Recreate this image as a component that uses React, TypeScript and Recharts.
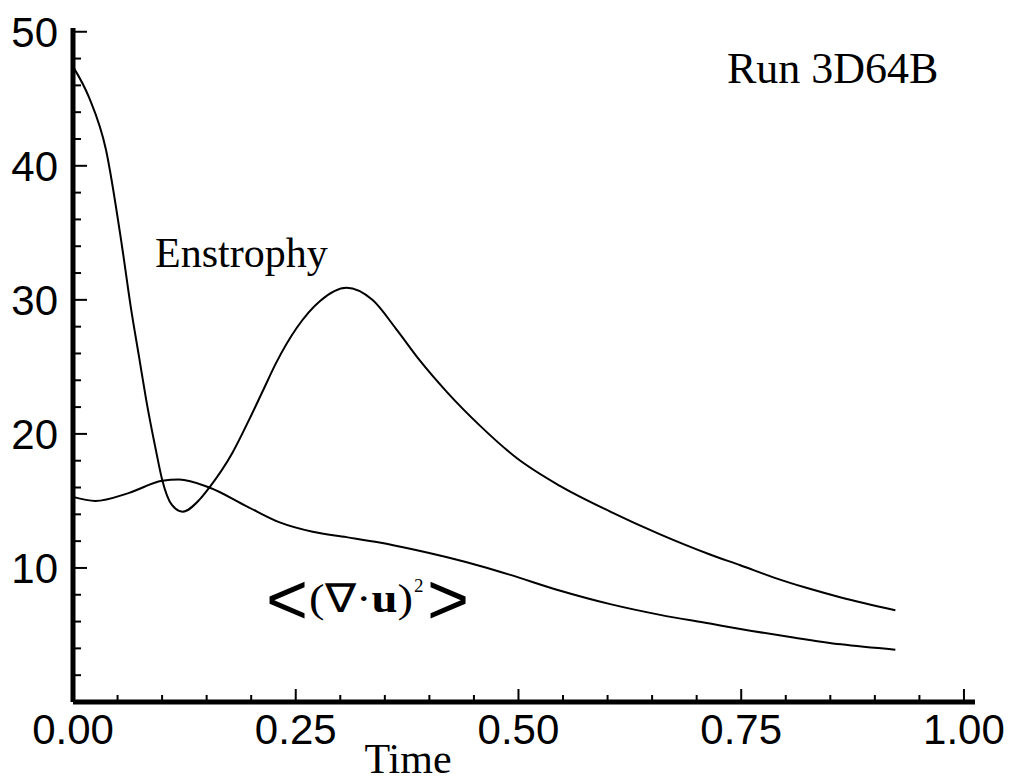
import { Line, LineChart, XAxis, YAxis } from "recharts";

// Enstrophy vs time
const enstrophyTime = [
  0, 0.018, 0.037, 0.055, 0.065, 0.074, 0.082, 0.093, 0.1, 0.111, 0.123, 0.142,
  0.153, 0.179, 0.198, 0.213, 0.228, 0.251, 0.277, 0.307, 0.336, 0.363, 0.389,
  0.42, 0.457, 0.498, 0.547, 0.603, 0.659, 0.715, 0.749, 0.786, 0.824, 0.862,
  0.923,
];
const enstrophyValue = [
  47.4, 45.1, 41.2, 34.0, 29.4, 25.8, 22.6, 18.8, 16.6, 14.7, 14.2, 15.1, 16.0,
  18.6, 21.1, 23.2, 25.3, 27.9, 29.9, 30.9, 30.0, 27.8, 25.5, 23.1, 20.6, 18.2,
  16.1, 14.2, 12.5, 11.0, 10.2, 9.3, 8.5, 7.8, 6.85,
];

// <(div u)^2> vs time
const divTime = [
  0, 0.025, 0.063, 0.1, 0.119, 0.153, 0.195, 0.232, 0.269, 0.307, 0.344, 0.381,
  0.42, 0.457, 0.49, 0.547, 0.603, 0.659, 0.715, 0.749, 0.805, 0.862, 0.923,
];
const divValue = [
  15.3, 15.0, 15.6, 16.5, 16.6, 16.0, 14.6, 13.4, 12.7, 12.3, 11.9, 11.4, 10.8,
  10.15, 9.5, 8.3, 7.3, 6.5, 5.85, 5.45, 4.85, 4.3, 3.9,
];

const xTicks = Array.from({ length: 21 }, (_, i) => i / 20);
const xMajor = [0, 0.25, 0.5, 0.75, 1];
const yTicks = Array.from({ length: 26 }, (_, i) => i * 2);
const yMajor = [10, 20, 30, 40, 50];

const enstrophy = enstrophyTime.map((t, i) => ({ t, v: enstrophyValue[i] }));
const divU = divTime.map((t, i) => ({ t, v: divValue[i] }));

const SANS = "'Liberation Sans', Arial, sans-serif";
const SERIF = "'Liberation Serif', 'Times New Roman', serif";

// ticks point inward; minor every 0.05, labels only on the majors
function XTick(props: any) {
  const { x, y, payload } = props;
  const major = xMajor.some((m) => Math.abs(m - payload.value) < 1e-6);
  return (
    <g>
      <line x1={x} x2={x} y1={y} y2={y - (major ? 13 : 7)} stroke="#000" strokeWidth={2} />
      {major && (
        <text x={x} y={y + 42} textAnchor="middle" fontFamily={SANS} fontSize={42} fill="#000">
          {payload.value.toFixed(2)}
        </text>
      )}
    </g>
  );
}

function YTick(props: any) {
  const { x, y, payload } = props;
  const major = yMajor.includes(payload.value);
  if (payload.value === 0) return <g />;
  return (
    <g>
      <line x1={x} x2={x + (major ? 14 : 8)} y1={y} y2={y} stroke="#000" strokeWidth={2} />
      {major && (
        <text x={x - 15} y={y + 15} textAnchor="end" fontFamily={SANS} fontSize={42} fill="#000">
          {payload.value}
        </text>
      )}
    </g>
  );
}

export default function App() {
  return (
    <div style={{ position: "absolute", left: 0, top: 0, background: "#fff" }}>
      <LineChart
        width={1011}
        height={781}
        margin={{ top: 28, right: 36, bottom: 78, left: 72 }}
      >
        <XAxis
          dataKey="t"
          type="number"
          domain={[0, 1.0124]}
          ticks={xTicks}
          interval={0}
          height={1}
          tickSize={0}
          tickMargin={0}
          tick={<XTick />}
          axisLine={{ stroke: "#000", strokeWidth: 5 }}
          allowDuplicatedCategory={false}
        />
        <YAxis
          type="number"
          domain={[0, 50.28]}
          ticks={yTicks}
          interval={0}
          width={1}
          tickSize={0}
          tickMargin={0}
          tick={<YTick />}
          axisLine={{ stroke: "#000", strokeWidth: 5 }}
          allowDataOverflow
        />
        <Line
          data={enstrophy}
          dataKey="v"
          type="monotone"
          stroke="#000"
          strokeWidth={2}
          dot={false}
          isAnimationActive={false}
        />
        <Line
          data={divU}
          dataKey="v"
          type="monotone"
          stroke="#000"
          strokeWidth={2}
          dot={false}
          isAnimationActive={false}
        />
        <text x={408} y={773} textAnchor="middle" fontFamily={SERIF} fontSize={42}>
          Time
        </text>
        <text x={155} y={267} fontFamily={SERIF} fontSize={42}>
          Enstrophy
        </text>
        <text x={727} y={83} fontFamily={SERIF} fontSize={44}>
          Run 3D64B
        </text>
        <text x={287} y={624} textAnchor="middle" fontFamily={SANS} fontSize={72}>
          {"<"}
        </text>
        <text x={309} y={612} fontFamily={SERIF} fontSize={40} textLength={104} lengthAdjust="spacingAndGlyphs">
          (∇·<tspan fontWeight="bold">u</tspan>)
        </text>
        <text x={414} y={592} fontFamily={SERIF} fontSize={19}>
          2
        </text>
        <text x={448} y={624} textAnchor="middle" fontFamily={SANS} fontSize={72}>
          {">"}
        </text>
      </LineChart>
    </div>
  );
}
